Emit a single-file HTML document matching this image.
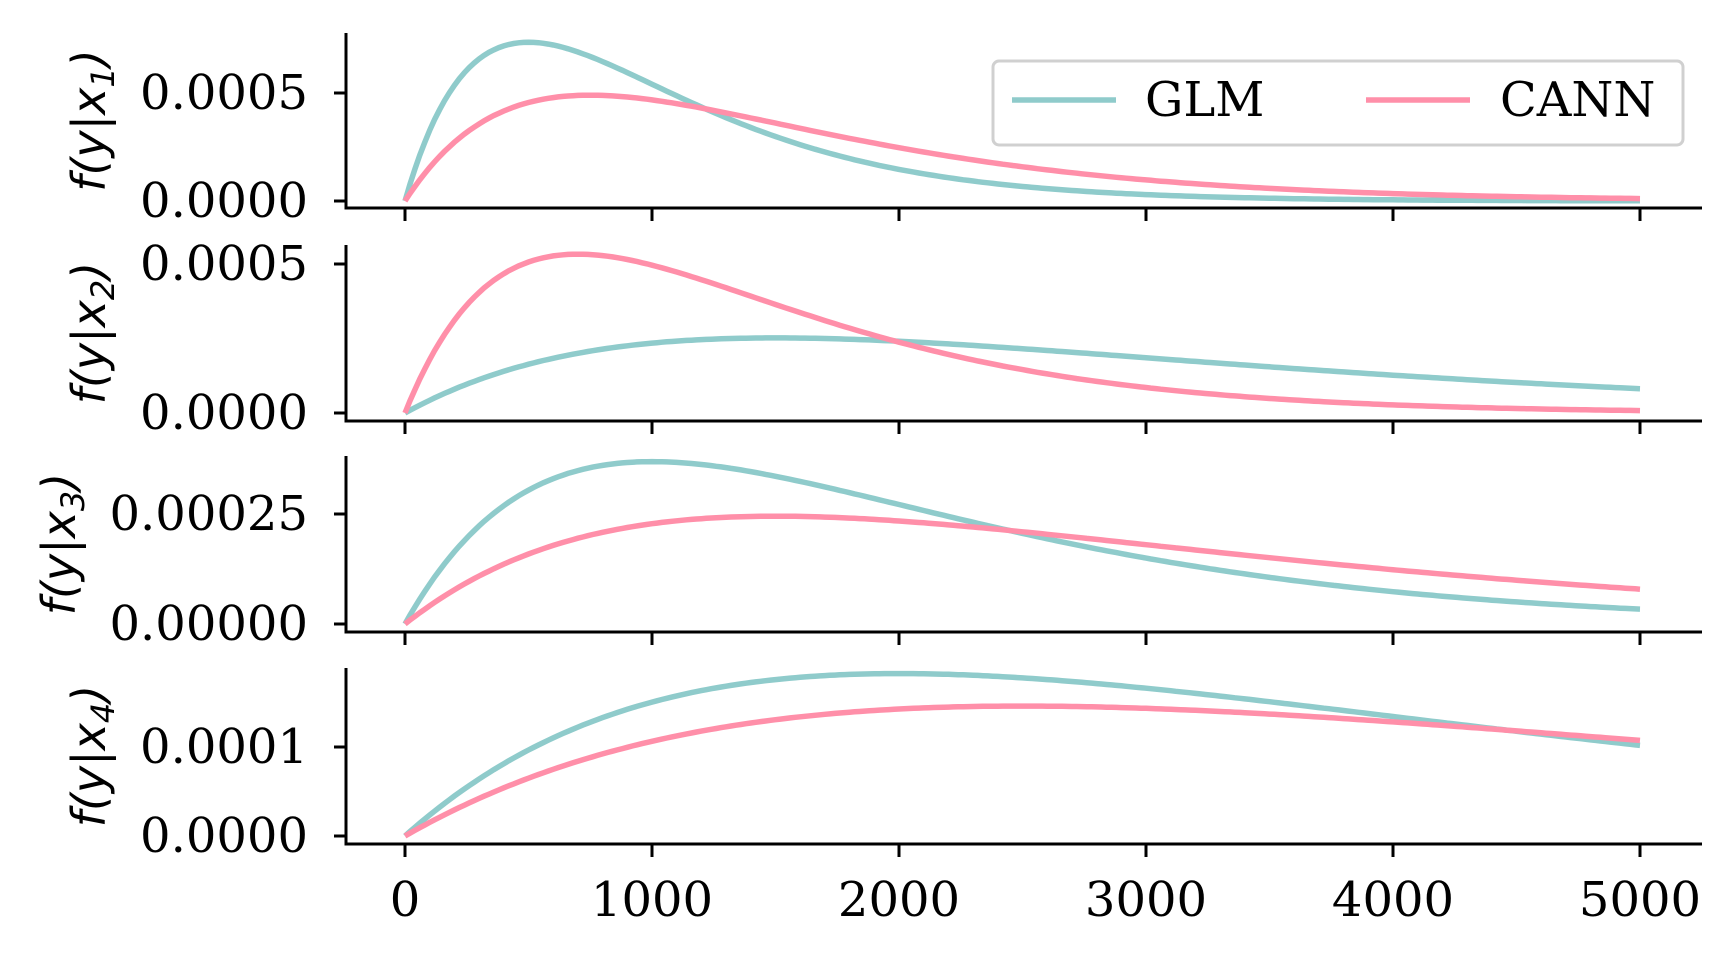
<!DOCTYPE html>
<html><head><meta charset="utf-8"><style>
html,body{margin:0;padding:0;background:#fff;}
svg{display:block}
text{font-family:"DejaVu Serif","Liberation Serif",serif;font-size:48px;fill:#000}
.yl{font-family:"DejaVu Sans","Liberation Sans",sans-serif;font-style:italic;font-size:46px}
</style></head><body>
<svg id="s" width="1735" height="959" viewBox="0 0 1735 959" xmlns="http://www.w3.org/2000/svg">
<g id="g"></g>
<text x="1145" y="116">GLM</text>
<text x="1500" y="116">CANN</text>
</svg>
<script>
var g=document.getElementById('g'),h='';
function X(v){return 405+v*1235/5000;}
var panels=[
 {top:33,bot:208,z:201,s:108/0.0005,ticks:[[0,'0.0000'],[0.0005,'0.0005']],lab:'1',lx:105,
  c:[[0.000735,500],[0.00049,750]]},
 {top:245,bot:421,z:413,s:149/0.0005,ticks:[[0,'0.0000'],[0.0005,'0.0005']],lab:'2',lx:105,
  c:[[0.000252,1500],[0.000533,700]]},
 {top:456,bot:632,z:624,s:110/0.00025,ticks:[[0,'0.00000'],[0.00025,'0.00025']],lab:'3',lx:75,
  c:[[0.000369,1000],[0.000245,1500]]},
 {top:668,bot:844,z:836,s:89/0.0001,ticks:[[0,'0.0000'],[0.0001,'0.0001']],lab:'4',lx:105,
  c:[[0.0001825,2000],[0.000146,2500]]}
];
var cols=['#8fcbcb','#ff8fa9'];
panels.forEach(function(p){
  h+='<line x1="346" y1="'+p.top+'" x2="346" y2="'+(p.bot+1.5)+'" stroke="#000" stroke-width="3"/>';
  h+='<line x1="344.5" y1="'+p.bot+'" x2="1702" y2="'+p.bot+'" stroke="#000" stroke-width="3"/>';
  p.ticks.forEach(function(t){var y=p.z-t[0]*p.s;
    h+='<line x1="334" y1="'+y+'" x2="346" y2="'+y+'" stroke="#000" stroke-width="3"/>';
    h+='<text x="308" y="'+(y+16)+'" text-anchor="end">'+t[1]+'</text>';});
  for(var k=0;k<=5;k++){var x=X(k*1000);
    h+='<line x1="'+x+'" y1="'+p.bot+'" x2="'+x+'" y2="'+(p.bot+13)+'" stroke="#000" stroke-width="3"/>';}
  var cy=(p.top+p.bot)/2;
  h+='<text class="yl" transform="translate('+p.lx+','+cy+') rotate(-90)" text-anchor="middle">f(y|x<tspan font-size="32" dy="9">'+p.lab+'</tspan><tspan dy="-9">)</tspan></text>';
  p.c.forEach(function(c,i){var d='';
    for(var v=0;v<=5000;v+=20){var f=c[0]*(v/c[1])*Math.exp(1-v/c[1]);
      d+=(v?'L':'M')+X(v).toFixed(1)+' '+(p.z-f*p.s).toFixed(1);}
    h+='<path d="'+d+'" fill="none" stroke="'+cols[i]+'" stroke-width="5.5"/>';});
});
for(var k=0;k<=5;k++)h+='<text x="'+X(k*1000)+'" y="916" text-anchor="middle">'+(k*1000)+'</text>';
h+='<rect x="993" y="61" width="690" height="84" rx="6" fill="#fff" stroke="#d0d0d0" stroke-width="3"/>';
h+='<line x1="1012" y1="100" x2="1116" y2="100" stroke="'+cols[0]+'" stroke-width="5.5"/>';
h+='<line x1="1366" y1="100" x2="1470" y2="100" stroke="'+cols[1]+'" stroke-width="5.5"/>';
g.innerHTML=h;
</script>
</body></html>
